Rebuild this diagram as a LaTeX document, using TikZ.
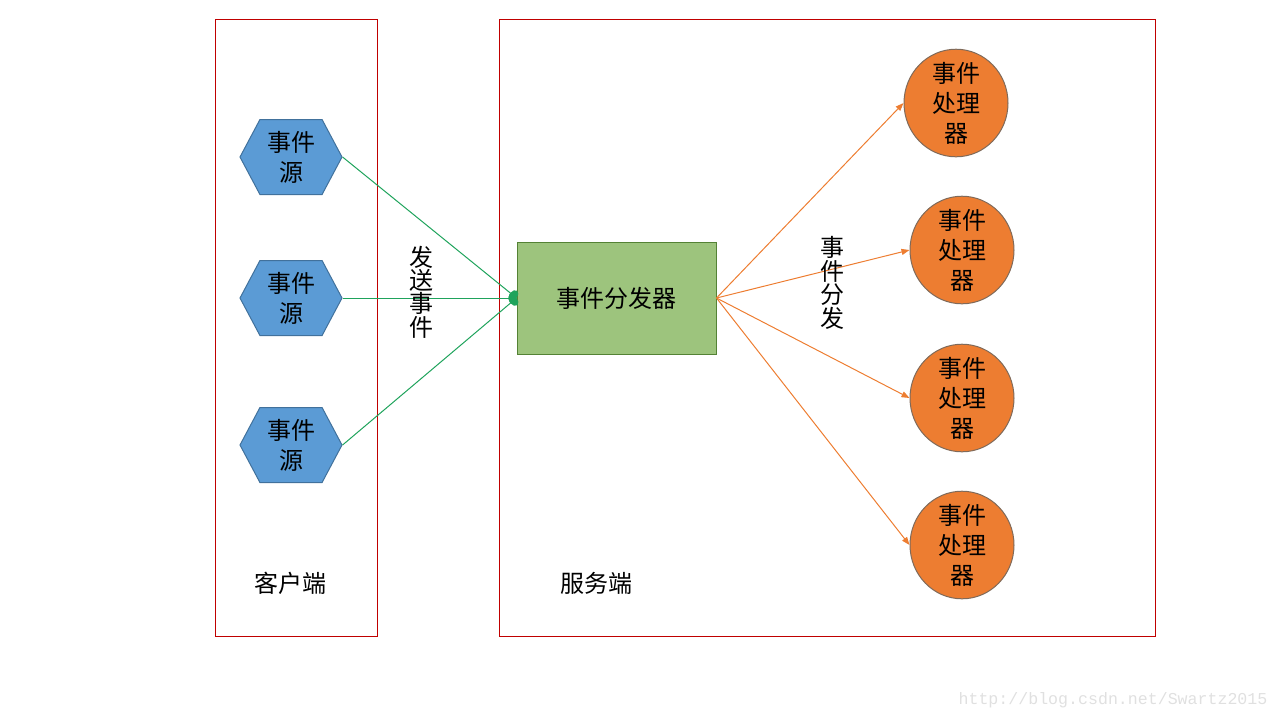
\documentclass[tikz,border=0pt]{standalone}
\usepackage{fontspec}
\setmainfont{Noto Sans CJK SC}
\newfontfamily\urlfont{Liberation Mono}
\usetikzlibrary{shapes.geometric,shapes.symbols,arrows.meta}

\definecolor{boxred}{HTML}{C00000}
\definecolor{srcblue}{HTML}{5B9BD5}
\definecolor{srcedge}{HTML}{41719C}
\definecolor{dispgreen}{HTML}{9DC47D}
\definecolor{dispedge}{HTML}{548235}
\definecolor{handorange}{HTML}{ED7D31}
\definecolor{handedge}{HTML}{7F6A5A}
\definecolor{sendgreen}{HTML}{1FA35C}

\tikzstyle{side} = [draw=boxred, line width=0.4pt]
\tikzstyle{source} = [signal, signal to=west and east, signal pointer angle=124,
    fill=srcblue, draw=srcedge, line width=0.5pt, minimum width=51pt, minimum height=37.5pt,
    inner sep=0pt, align=center, font=\fontsize{12}{15}\selectfont]
\tikzstyle{dispatcher} = [rectangle, fill=dispgreen, draw=dispedge, line width=0.5pt,
    minimum width=99.5pt, minimum height=56pt, font=\fontsize{12}{15}\selectfont]
\tikzstyle{handler} = [ellipse, fill=handorange, draw=handedge, line width=0.5pt,
    minimum width=52pt, inner sep=-1.5pt, align=center,
    font=\fontsize{12}{15}\selectfont]
\tikzstyle{label} = [align=center, font=\fontsize{12}{15}\selectfont]
\tikzstyle{vlabel} = [align=center, font=\fontsize{12}{11.7}\selectfont]
\tikzstyle{send} = [draw=sendgreen, line width=0.5pt, -{Ellipse[length=4pt,width=6pt]}]
\tikzstyle{spread} = [draw=handorange, line width=0.5pt, -{Triangle[length=4pt,width=3pt]}]

\begin{document}
\begin{tikzpicture}[x=0.5pt, y=-0.5pt]
    \useasboundingbox (0,0) rectangle (1280,720);

    % client and server areas
    \draw [side] (215,19) rectangle (377,636);
    \draw [side] (499,19) rectangle (1155,636);
    \node [label] (Client) at (290,583) {客户端};
    \node [label] (Server) at (596,583) {服务端};

    % event sources
    \node [source] (Source1) at (291,157) {事件\\源};
    \node [source] (Source2) at (291,298) {事件\\源};
    \node [source] (Source3) at (291,445) {事件\\源};

    % dispatcher
    \node [dispatcher] (Dispatcher) at (616.5,298) {事件分发器};

    % handlers
    \node [handler] (Handler1) at (956,103) {事件\\处理\\器};
    \node [handler] (Handler2) at (962,250) {事件\\处理\\器};
    \node [handler] (Handler3) at (962,398) {事件\\处理\\器};
    \node [handler] (Handler4) at (962,545) {事件\\处理\\器};

    \path [send] (Source1.east) -- (Dispatcher.west);
    \path [send] (Source2.east) -- (Dispatcher.west);
    \path [send] (Source3.east) -- (Dispatcher.west);
    \node [vlabel] (Send) at (421,292) {发\\送\\事\\件};

    \path [spread] (Dispatcher.east) -- (Handler1.west);
    \path [spread] (Dispatcher.east) -- (Handler2.west);
    \path [spread] (Dispatcher.east) -- (Handler3.west);
    \path [spread] (Dispatcher.east) -- (Handler4.west);
    \node [vlabel] (Spread) at (832,283) {事\\件\\分\\发};

    \node [text=black!12, font=\urlfont\fontsize{8.3}{10}\selectfont] (Mark) at (1113,700) {http://blog.csdn.net/Swartz2015};
\end{tikzpicture}
\end{document}
